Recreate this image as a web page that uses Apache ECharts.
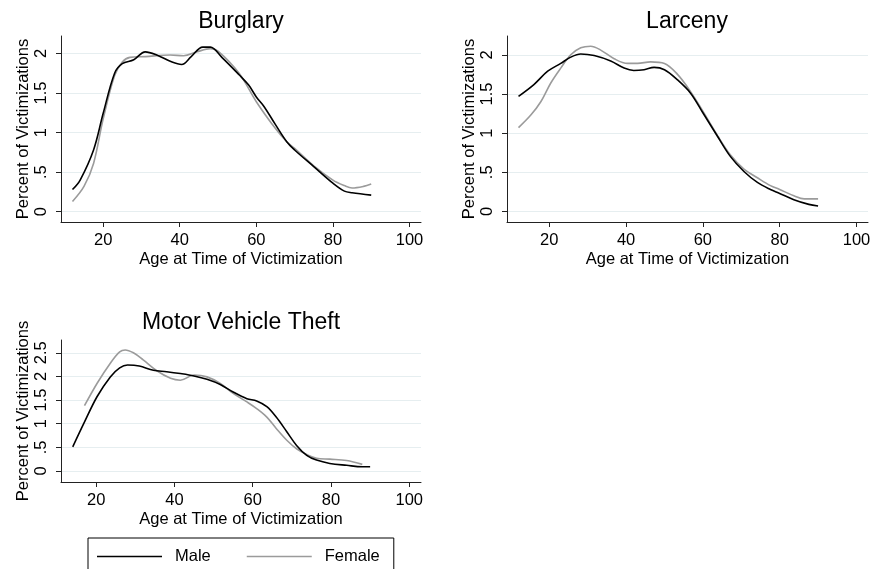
<!DOCTYPE html>
<html>
<head>
<meta charset="utf-8">
<script src="https://cdn.jsdelivr.net/npm/echarts@6/dist/echarts.min.js"></script>
<style>
  html, body { margin: 0; padding: 0; background: #fff; }
  #chart { width: 874px; height: 569px; }
</style>
</head>
<body>
<div id="chart"></div>
<script>
// Smoothed age distributions of victimization, by sex, [age, percent]
const burglaryMale = [[12,0.28],[14,0.40],[17.5,0.78],[20,1.24],[23,1.75],[25,1.87],[28,1.92],[31,2.02],[34,1.98],[38,1.89],[40.5,1.86],[43,1.96],[46,2.08],[48,2.08],[51,1.95],[55.5,1.73],[58,1.60],[60,1.45],[62,1.33],[65,1.10],[68,0.88],[70,0.78],[75,0.57],[80,0.36],[83,0.26],[85,0.24],[90,0.21]];
const burglaryFemale = [[12,0.13],[15,0.32],[17.5,0.61],[20,1.17],[23,1.72],[25,1.89],[27,1.95],[31,1.96],[37.5,1.98],[41,1.97],[44.5,2.02],[48,2.06],[50,2.03],[55.5,1.75],[60,1.39],[65,1.05],[68,0.88],[70,0.80],[75,0.58],[80,0.40],[83,0.33],[85,0.30],[88,0.32],[90,0.35]];

const larcenyMale = [[12,1.47],[16,1.62],[19.6,1.79],[23,1.89],[25.6,1.97],[28.2,2.01],[31.7,1.99],[36,1.92],[39.5,1.83],[42,1.80],[44.7,1.81],[47.3,1.84],[50,1.81],[53.4,1.68],[56.8,1.51],[60,1.26],[63.8,0.96],[67.2,0.70],[70.7,0.51],[74.2,0.37],[77.6,0.28],[80,0.23],[83.7,0.15],[87.6,0.09],[90,0.07]];
const larcenyFemale = [[12,1.07],[15.2,1.23],[17.8,1.40],[20.4,1.64],[23,1.83],[25.6,2.00],[28.2,2.09],[30.8,2.11],[33.4,2.06],[36.9,1.95],[40.4,1.89],[43,1.89],[46.4,1.91],[50,1.89],[53.4,1.75],[56.8,1.53],[60,1.28],[63.8,0.97],[67.2,0.72],[70.7,0.54],[74.2,0.43],[77.6,0.33],[80,0.28],[83.7,0.20],[86.4,0.16],[90,0.16]];

const motorMale = [[14,0.51],[16.8,1.00],[20.2,1.57],[23.6,1.99],[26,2.18],[28,2.24],[31,2.22],[34.6,2.13],[38,2.10],[41.5,2.06],[45,2.01],[48.3,1.94],[51.7,1.83],[55,1.67],[58.5,1.53],[61,1.48],[63.6,1.36],[66,1.14],[68.7,0.83],[71.2,0.54],[73.8,0.33],[76.3,0.23],[79.7,0.16],[84,0.12],[88,0.09],[90,0.09]];
const motorFemale = [[17,1.38],[20.2,1.85],[23.6,2.28],[26,2.52],[27.4,2.56],[29.5,2.50],[32,2.35],[35.5,2.12],[39,1.96],[41.5,1.92],[45,2.03],[48.3,1.99],[51.7,1.85],[55,1.64],[58.5,1.46],[61,1.32],[63.6,1.14],[66,0.90],[68.7,0.65],[71.2,0.47],[73.8,0.35],[76.3,0.27],[79.7,0.25],[84,0.22],[88,0.14]];

const panelTitles = ['Burglary', 'Larceny', 'Motor Vehicle Theft'];
const ageTicks = [20, 40, 60, 80, 100];
const pctTicksShort = [0, 0.5, 1, 1.5, 2];
const pctTicksTall = [0, 0.5, 1, 1.5, 2, 2.5];
const seriesNames = ['Male', 'Female'];

const FONT = 'Liberation Sans, Arial, Helvetica, sans-serif';
const MALE_COLOR = '#000000';
const FEMALE_COLOR = '#9b9b9b';
const GRID_COLOR = '#e6eef0';

const fmtPct = v => (v === 0.5 ? '.5' : String(v));

const panels = [
  { grid: { left: 61, top: 36, width: 360, height: 186 }, x: [9, 103], y: [-0.13, 2.22], yTicks: pctTicksShort, male: burglaryMale, female: burglaryFemale, titleX: 241, titleY: 10 },
  { grid: { left: 507, top: 36, width: 361, height: 186 }, x: [9, 103], y: [-0.135, 2.24], yTicks: pctTicksShort, male: larcenyMale, female: larcenyFemale, titleX: 687, titleY: 10 },
  { grid: { left: 61, top: 340, width: 360, height: 142 }, x: [11, 103], y: [-0.233, 2.77], yTicks: pctTicksTall, male: motorMale, female: motorFemale, titleX: 241, titleY: 311 }
];

const option = {
  animation: false,
  backgroundColor: '#ffffff',
  textStyle: { fontFamily: FONT },
  title: panels.map((p, i) => ({
    text: panelTitles[i],
    left: p.titleX,
    top: p.titleY,
    textAlign: 'center',
    padding: 0,
    textStyle: { fontFamily: FONT, fontSize: 23, fontWeight: 'normal', color: '#000' }
  })),
  legend: {
    left: 88,
    top: 538,
    orient: 'horizontal',
    data: seriesNames,
    icon: 'rect',
    itemWidth: 65,
    itemHeight: 1.6,
    itemGap: 36,
    padding: [10, 14, 12, 9],
    borderColor: '#000',
    borderWidth: 1,
    selectedMode: false,
    textStyle: { fontFamily: FONT, fontSize: 16.5, color: '#000', padding: [0, 0, 0, 8] }
  },
  grid: panels.map(p => Object.assign({ containLabel: false }, p.grid)),
  xAxis: panels.map((p, i) => ({
    type: 'value',
    gridIndex: i,
    min: p.x[0],
    max: p.x[1],
    name: 'Age at Time of Victimization',
    nameLocation: 'middle',
    nameGap: 29,
    nameTextStyle: { fontFamily: FONT, fontSize: 16.5, color: '#000' },
    axisLine: { show: true, onZero: false, lineStyle: { color: '#222', width: 1 } },
    axisTick: { show: true, length: 5, lineStyle: { color: '#222' }, customValues: ageTicks },
    axisLabel: { fontFamily: FONT, fontSize: 16.5, color: '#000', margin: 10, customValues: ageTicks, showMinLabel: true, showMaxLabel: true },
    splitLine: { show: false }
  })),
  yAxis: panels.map((p, i) => ({
    type: 'value',
    gridIndex: i,
    min: p.y[0],
    max: p.y[1],
    name: 'Percent of Victimizations',
    nameLocation: 'middle',
    nameGap: 29.5,
    nameTextStyle: { fontFamily: FONT, fontSize: 16.5, color: '#000' },
    axisLine: { show: true, onZero: false, lineStyle: { color: '#222', width: 1 } },
    axisTick: { show: true, length: 5, lineStyle: { color: '#222' }, customValues: p.yTicks },
    axisLabel: { fontFamily: FONT, fontSize: 16.5, color: '#000', rotate: 90, margin: 11, customValues: p.yTicks, formatter: fmtPct },
    splitLine: { show: true, lineStyle: { color: GRID_COLOR, width: 1 } }
  })),
  series: panels.flatMap((p, i) => [
    {
      name: 'Male', type: 'line', xAxisIndex: i, yAxisIndex: i,
      data: p.male, smooth: 0.35, symbol: 'none', z: 3,
      lineStyle: { color: MALE_COLOR, width: 1.6 }, itemStyle: { color: MALE_COLOR }
    },
    {
      name: 'Female', type: 'line', xAxisIndex: i, yAxisIndex: i,
      data: p.female, smooth: 0.35, symbol: 'none', z: 2,
      lineStyle: { color: FEMALE_COLOR, width: 1.6 }, itemStyle: { color: FEMALE_COLOR }
    }
  ])
};

const chart = echarts.init(document.getElementById('chart'), null, { renderer: 'canvas' });
chart.setOption(option);
</script>
</body>
</html>
